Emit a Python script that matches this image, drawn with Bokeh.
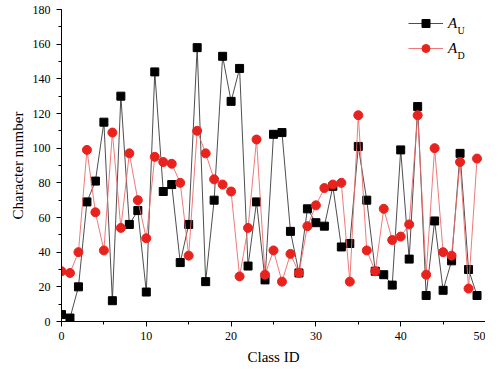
from bokeh.plotting import figure
from bokeh.models import Legend, LegendItem, Label, Range1d, FixedTicker
from bokeh.embed import file_html
from bokeh.resources import INLINE

class_id = list(range(50))
a_u = [4, 2, 20, 69, 81, 115, 12, 130, 56, 64,
       17, 144, 75, 79, 34, 56, 158, 23, 70, 153,
       127, 146, 32, 69, 24, 108, 109, 52, 28, 65,
       57, 55, 78, 43, 45, 101, 70, 29, 27, 21,
       99, 36, 124, 15, 58, 18, 35, 97, 30, 15]
a_d = [29, 28, 40, 99, 63, 41, 109, 54, 97, 70,
       48, 95, 92, 91, 80, 38, 110, 97, 82, 79,
       75, 26, 54, 105, 27, 41, 23, 39, 28, 55,
       67, 77, 79, 80, 23, 119, 41, 29, 65, 47,
       49, 56, 119, 27, 100, 40, 38, 92, 19, 94]
series_names = ["U", "D"]
x_ticks = [0, 10, 20, 30, 40, 50]
y_ticks = [0, 20, 40, 60, 80, 100, 120, 140, 160, 180]
x_label = "Class ID"
y_label = "Character number"

FONT = "Liberation Serif"

p = figure(width=485, height=367, output_backend="svg", toolbar_location=None,
           x_range=Range1d(0, 50), y_range=Range1d(0, 180),
           min_border_left=61, min_border_right=0, min_border_top=9, min_border_bottom=44)
p.outline_line_color = None
p.xgrid.visible = False
p.ygrid.visible = False
p.background_fill_color = "white"
p.border_fill_color = "white"

p.xaxis[0].ticker = FixedTicker(ticks=x_ticks, minor_ticks=list(range(0, 51, 5)))
p.yaxis[0].ticker = FixedTicker(ticks=y_ticks, minor_ticks=list(range(0, 181, 10)))
for ax in (p.xaxis[0], p.yaxis[0]):
    ax.major_tick_out = 5
    ax.major_tick_in = 0
    ax.minor_tick_out = 3
    ax.minor_tick_in = 0
    ax.axis_line_color = "black"
    ax.major_tick_line_color = "black"
    ax.minor_tick_line_color = "black"
    ax.major_label_text_font = FONT
    ax.major_label_text_font_size = "12px"
    ax.major_label_text_color = "black"
    ax.axis_label_text_font = FONT
    ax.axis_label_text_font_size = "15px"
    ax.axis_label_text_font_style = "normal"
    ax.axis_label_text_color = "black"

p.xaxis[0].axis_label = x_label
p.yaxis[0].axis_label = y_label
p.xaxis[0].major_label_standoff = 5
p.xaxis[0].axis_label_standoff = 6
p.yaxis[0].major_label_standoff = 6
p.yaxis[0].axis_label_standoff = 4

l1 = p.line(class_id, a_u, line_color="#3a3a3a", line_width=0.9)
s1 = p.scatter(class_id, a_u, marker="square", size=8, fill_color="black", line_color="black")
l2 = p.line(class_id, a_d, line_color="#ee6a6a", line_width=0.9)
s2 = p.scatter(class_id, a_d, marker="circle", size=9, fill_color="#e8231e", line_color="#e8231e")

legend = Legend(items=[LegendItem(label="A", renderers=[l1, s1]),
                       LegendItem(label="A", renderers=[l2, s2])],
                location=(347, 263))
legend.border_line_color = None
legend.background_fill_alpha = 0
legend.padding = 0
legend.margin = 0
legend.spacing = 5
legend.glyph_height = 20
legend.glyph_width = 35
legend.label_height = 20
legend.label_standoff = 5
legend.label_text_font = FONT
legend.label_text_font_style = "italic"
legend.label_text_font_size = "15px"
legend.label_text_color = "black"
p.add_layout(legend)

for i, name in enumerate(series_names):
    p.add_layout(Label(x=396, y=291 - 25 * i, x_units="screen", y_units="screen",
                       text=name, text_font=FONT, text_font_size="10px",
                       text_baseline="middle", text_align="left", text_color="black"))

open("out.html", "w").write(file_html(p, INLINE))
